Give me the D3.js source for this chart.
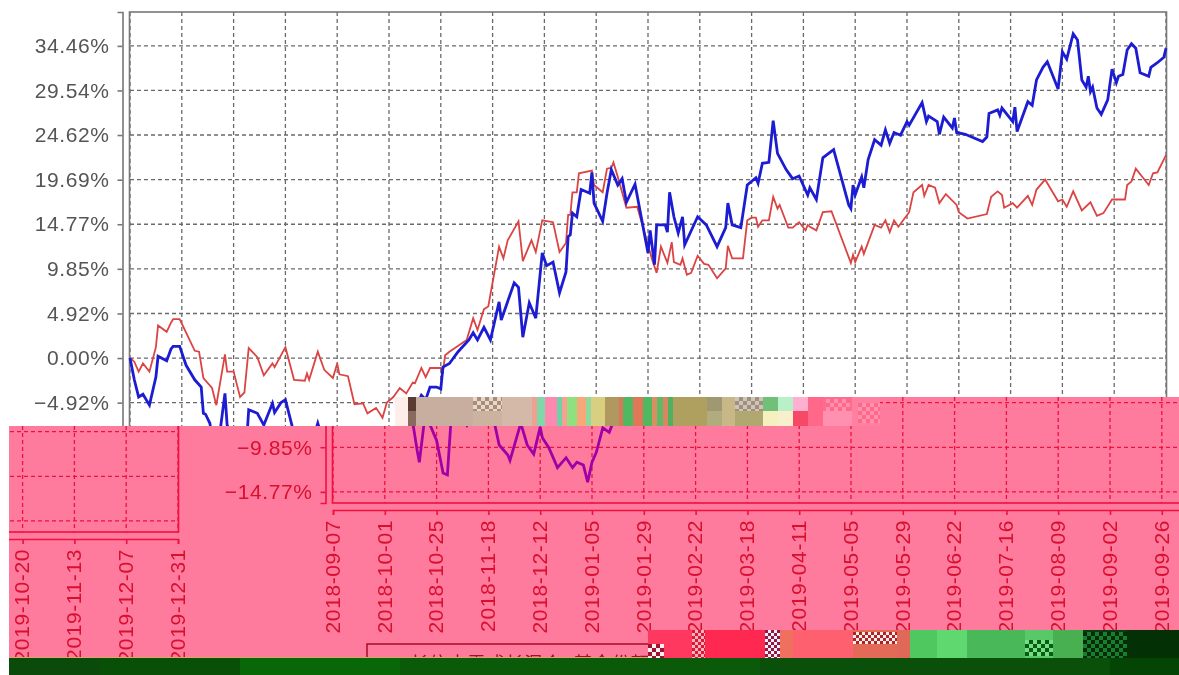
<!DOCTYPE html>
<html>
<head>
<meta charset="utf-8">
<script src="https://cdn.jsdelivr.net/npm/d3@7"></script>
<style>
  html, body { margin: 0; padding: 0; background: #fff; }
  svg { display: block; filter: blur(0.5px); }
</style>
</head>
<body>
<div id="wrapper"></div>
<script>
// tick labels
const xTickLabels = ["2018-09-07","2018-10-01","2018-10-25","2018-11-18","2018-12-12","2019-01-05","2019-01-29","2019-02-22","2019-03-18","2019-04-11","2019-05-05","2019-05-29","2019-06-22","2019-07-16","2019-08-09","2019-09-02","2019-09-26","2019-10-20","2019-11-13","2019-12-07","2019-12-31"]
const yTicks = [34.46, 29.54, 24.62, 19.69, 14.77, 9.85, 4.92, 0, -4.92, -9.85, -14.77]
const legendName = "长信内需成长混合A基金份额"

// fund line (blue): days after 2018-09-07, return in %
const fundDays = [0,2,4,6,9,12,13,17,19,20,23,26,30,33,34,35,37,39,40,42,44,45,48,51,53,55,59,62,66,67,70,72,75,77,81,82,87,90,93,96,97,100,104,108,111,113,116,118,120,122,125,128,131,135,137,139,142,144,145,148,152,157,159,161,164,167,171,172,178,180,182,185,188,191,193,196,199,202,203,204,205,207,209,213,214,215,219,221,223,226,228,230,234,240,241,243,244,248,249,250,252,254,256,257,263,267,272,276,277,279,283,286,290,291,293,296,298,300,304,307,310,314,315,318,321,326,333,334,335,336,339,340,342,345,348,350,352,354,357,360,361,367,369,370,374,375,377,381,382,383,387,395,397,398,402,403,404,409,410,411,416,418,420,423,425,430,432,434,437,439,441,443,444,445,446,448,450,453,455,457,458,460,462,464,466,468,472,473,476,479,480]
const fundValues = [0,-2.4,-4.3,-4,-5.2,-2.1,0.2,-0.3,1,1.3,1.3,-0.8,-2.4,-3.2,-6.1,-6.2,-7.2,-10.2,-11.5,-7.6,-3.9,-7.4,-9.1,-12.7,-12.9,-5.7,-6.1,-7.4,-5,-6,-4.9,-4.6,-7.4,-9.6,-10.7,-11.3,-7.2,-9.6,-10.6,-7.6,-8.8,-9.9,-12.1,-11,-12.1,-11.5,-11.8,-13.7,-11.5,-10.4,-7.7,-8.2,-6.3,-4.1,-4.6,-3.2,-3.2,-3.4,-1,-0.6,0.7,2,2.8,2,3.4,2,6.2,4.2,8.3,7.8,2.3,6.1,4.4,11.6,10.2,10.6,7.2,9.5,13.4,13.6,16,15.6,18.6,18.2,20.5,17.1,15.1,18.2,20.8,19.1,19.8,17.2,19.2,11.6,14.1,10.3,14.7,14.7,13.9,18.3,15.6,13.8,15.6,12.5,15.6,14.7,12.3,14.4,17.1,14.7,14.4,19.1,19.9,19.3,21.5,21.6,26.2,22.6,20.8,19.8,20.1,18,18.8,17.5,22.1,23,16.9,16.5,19.1,18,20,18.8,21.9,24.1,23.5,25.2,23.7,24.9,24.6,26.1,25.7,28.2,26.1,26.7,26.1,24.7,26.6,25.4,26.5,24.9,24.7,23.9,24.4,27,27.4,26.8,27.6,26.1,27.7,25,28.3,27.9,30.7,32.1,32.7,29.7,33.8,33,35.8,35.1,30.7,29.9,31.1,29.4,29.9,27.6,26.9,28.5,31.9,30.4,31.1,31.3,34,34.7,34.2,31.5,31.1,32.1,32.6,33.2,34.2]

// benchmark line (red)
const benchDays = [0,2,4,6,9,12,13,17,19,20,23,26,30,32,34,38,40,44,45,48,51,53,55,59,62,66,67,72,74,76,81,82,83,87,90,94,96,97,101,104,108,110,114,117,119,122,125,128,131,132,135,137,139,144,145,146,148,156,159,161,164,166,171,173,175,180,182,186,188,191,196,199,202,203,204,205,207,208,214,215,219,221,223,224,226,230,235,242,244,246,249,251,252,255,256,258,260,263,266,268,272,276,277,279,284,286,288,290,291,293,296,298,300,301,305,307,310,313,314,315,318,321,325,334,335,336,339,340,345,348,350,352,354,356,361,363,367,368,370,373,375,378,383,384,388,397,399,402,404,405,409,411,416,418,420,424,430,432,434,437,441,445,448,451,455,461,462,464,466,472,474,476,480]
const benchValues = [0,-0.4,-1.5,-0.6,-1.5,1.2,3.6,2.9,3.9,4.3,4.3,2.8,0.8,0.7,-2.2,-3.3,-5.2,0.4,-1.5,-1.5,-4.3,-3.8,1.1,0.1,-1.9,-0.6,-1,1.2,-0.6,-2.4,-2.5,-1.7,-2.4,0.7,-1.3,-2.2,-0.6,-1.8,-2,-5.1,-5,-6.1,-5.5,-6.6,-4.9,-4.3,-3.3,-3.9,-2.7,-2.8,-1.1,-2.1,-1.1,-1.1,-1.5,0.3,0.7,2,4.4,3.1,5.4,5.7,12.3,11,13,15.1,10.7,13,11.7,15.2,15,11.7,12.7,15.8,15.8,18.3,18.3,20.4,20.7,19.1,18.3,20.9,21,21.6,20,16.6,16.7,10.8,9.4,12.3,10.5,12.8,10.6,10.3,11,9.2,9.4,11.3,10.4,10.3,8.8,9.9,12.4,11,11,15.2,15.5,15.5,14.5,15.2,15.2,17.8,16.5,16.9,14.4,14.4,15,14.1,14.7,14.5,14.1,16.1,16.2,10.5,11.4,10.6,12.3,11.5,14.7,14.4,15.2,13.9,15.2,14.5,16.1,18.3,19.1,17.9,19.1,18.8,17.1,18.1,16.9,16.1,15.4,15.9,17.8,18.4,18,16.6,17.1,16.6,17.9,16.9,18.6,19.7,17.3,17.5,16.7,18.4,16.3,17.2,15.7,16,17.5,17.5,19.1,19.5,20.9,19.1,20.4,20.5,22.4]

const dms = { width: 1179, height: 675, left: 130, right: 1166, top: 12, bottom: 503, axisY: 510, axisX: 122.5 }
const fontFamily = "'Liberation Sans', Arial, sans-serif"

const parseDate = d3.utcParse("%Y-%m-%d")
const tickDates = xTickLabels.map(parseDate)
const startDate = tickDates[0]

const xScale = d3.scaleUtc()
  .domain([startDate, tickDates[tickDates.length - 1]])
  .range([dms.left, dms.right])

const yScale = d3.scaleLinear()
  .domain([-16, 38.2])
  .range([dms.bottom, dms.top])

const lineGen = d3.line()
  .x(d => xScale(d3.utcDay.offset(startDate, d[0])))
  .y(d => yScale(d[1]))

const wrapper = d3.select("#wrapper")
  .append("svg")
  .attr("width", dms.width)
  .attr("height", dms.height)

const defs = wrapper.append("defs")

// the whole chart, drawn once for the clean part and again for each shifted piece
// show says which tick labels and whether the legend are in view for that piece
function drawChart(parent, colors, show) {
  const grid = parent.append("g")
    .attr("stroke", colors.grid)
    .attr("stroke-width", 1.3)
    .attr("stroke-dasharray", "4 3")

  grid.selectAll(".v")
    .data(tickDates)
    .join("line")
    .attr("x1", d => xScale(d))
    .attr("x2", d => xScale(d))
    .attr("y1", dms.top)
    .attr("y2", dms.bottom)

  grid.selectAll(".h")
    .data(yTicks)
    .join("line")
    .attr("x1", dms.left)
    .attr("x2", dms.right)
    .attr("y1", d => yScale(d))
    .attr("y2", d => yScale(d))

  parent.append("rect")
    .attr("x", dms.left - 0.5)
    .attr("y", dms.top)
    .attr("width", dms.right - dms.left + 1)
    .attr("height", dms.bottom - dms.top)
    .attr("fill", "none")
    .attr("stroke", colors.frame)
    .attr("stroke-width", 1.6)

  const yAxis = parent.append("g")
    .attr("transform", `translate(${dms.axisX},0)`)
    .call(d3.axisLeft(yScale).tickValues(yTicks).tickSize(5)
      .tickFormat(d => d3.format(".2f")(d) + "%"))

  const xAxis = parent.append("g")
    .attr("transform", `translate(0,${dms.axisY})`)
    .call(d3.axisBottom(xScale).tickValues(tickDates).tickSize(5)
      .tickFormat(d3.utcFormat("%Y-%m-%d")))

  xAxis.selectAll("text")
    .attr("transform", "rotate(-90)")
    .attr("text-anchor", "end")
    .attr("x", -10)
    .attr("y", -1)
    .attr("dy", "0.35em")

  yAxis.selectAll("text").attr("x", -13)

  for (const axis of [xAxis, yAxis]) {
    axis.selectAll("path, line")
      .attr("stroke", colors.frame)
      .attr("stroke-width", 1.6)
    axis.selectAll("text")
      .attr("fill", colors.text)
      .attr("font-family", fontFamily)
      .attr("font-size", 21)
      .attr("letter-spacing", 0.6)
  }

  xAxis.selectAll("text").filter(d => !show.xLabel(d)).remove()
  yAxis.selectAll("text").filter(d => !show.yLabel(d)).remove()

  parent.append("path")
    .attr("d", lineGen(d3.zip(benchDays, benchValues)))
    .attr("fill", "none")
    .attr("stroke", colors.bench)
    .attr("stroke-width", 1.8)

  parent.append("path")
    .attr("d", lineGen(d3.zip(fundDays, fundValues)))
    .attr("fill", "none")
    .attr("stroke", colors.fund)
    .attr("stroke-width", 2.8)

  if (!show.legend) return

  // legend box, only its top edge is left in the picture
  parent.append("rect")
    .attr("x", 164)
    .attr("y", 644)
    .attr("width", 520)
    .attr("height", 60)
    .attr("fill", "none")
    .attr("stroke", colors.box)
    .attr("stroke-width", 1.5)

  parent.append("text")
    .attr("x", 207)
    .attr("y", 671)
    .attr("fill", colors.box)
    .attr("font-family", "'Noto Sans CJK SC', sans-serif")
    .attr("font-size", 19)
    .text(legendName)
}

const plainColors = { grid: "#6a6a6a", frame: "#777", text: "#555", fund: "#1c1cd2", bench: "#dc4444", box: "#555" }
const pinkColors = { grid: "#ee1040", frame: "#ee1040", text: "#d81030", fund: "#a000a8", bench: "#dc1030", box: "#a80c28" }
const pink = "#ff7b9d"

drawChart(wrapper.append("g"), plainColors, {
  xLabel: () => false,
  yLabel: d => d > -5
})

// the picture is torn: below these lines it continues shifted and recoloured
function drawTornPiece(id, outline, dx, dy, show) {
  defs.append("clipPath").attr("id", id)
    .append("polygon").attr("points", outline.join(" "))
  const piece = wrapper.append("g").attr("clip-path", `url(#${id})`)
  piece.append("rect")
    .attr("width", dms.width)
    .attr("height", dms.height)
    .attr("fill", pink)
  drawChart(piece.append("g").attr("transform", `translate(${dx},${dy})`), pinkColors, show)
}

const tornStart = tickDates[17]

drawTornPiece("tornLeft", [[9,426],[215,426],[215,658],[9,658]], -988, 29, {
  xLabel: d => d >= tornStart,
  yLabel: () => false
})
drawTornPiece("tornRight", [[215,426],[800,426],[800,397],[1179,397],[1179,658],[215,658]], 203, 0, {
  xLabel: d => d < tornStart,
  yLabel: d => d < -5,
  legend: true
})

// corrupted blocks
function drawBlocks(y, h, blocks) {
  wrapper.append("g").selectAll("rect")
    .data(blocks)
    .join("rect")
    .attr("x", d => d[0])
    .attr("y", y)
    .attr("width", d => d[1] - d[0])
    .attr("height", h)
    .attr("fill", d => d[2])
}

function drawChecks(x0, x1, y0, y1, size, colorA, colorB) {
  const cells = d3.cross(d3.range(x0, x1, size), d3.range(y0, y1, size))
  wrapper.append("g").selectAll("rect")
    .data(cells)
    .join("rect")
    .attr("x", d => d[0])
    .attr("y", d => d[1])
    .attr("width", d => Math.min(size, x1 - d[0]))
    .attr("height", d => Math.min(size, y1 - d[1]))
    .attr("fill", d => ((d[0] - x0) / size + (d[1] - y0) / size) % 2 ? colorA : colorB)
}

drawBlocks(397, 29, [
  [395,408,"#fdeeea"],[408,416,"#8a6a5c"],[416,473,"#c8ae9e"],[473,502,"#ccb3a0"],[502,532,"#d4b8a8"],
  [532,537,"#f0a090"],[537,545,"#80d8a8"],[545,557,"#ff88b0"],[557,562,"#70d0a8"],[562,567,"#f5a090"],
  [567,577,"#90e080"],[577,586,"#f8a878"],[586,591,"#90d8a0"],[591,605,"#d8d080"],[605,619,"#b09860"],
  [619,623,"#d87858"],[623,633,"#50b860"],[633,643,"#e07858"],[643,652,"#50b860"],[652,657,"#d89060"],
  [657,663,"#60b868"],[663,668,"#d88860"],[668,673,"#50b060"],[673,707,"#b0a060"],[707,722,"#b0ac80"],
  [722,735,"#c8b888"],[735,763,"#b0a870"],[763,778,"#f4f0c0"],[778,793,"#f8f0cc"],[793,808,"#f84868"],
  [808,823,"#ff6888"],[823,852,"#ff90b0"],[852,880,"#ff80a0"]
])
drawBlocks(397, 14, [[408,416,"#5a3c32"],[707,722,"#a09870"],[735,763,"#a89888"],[763,778,"#70c078"],[778,793,"#b8f0c8"],[793,808,"#ffb0d0"],[823,852,"#ff6c8c"]])
drawChecks(473, 502, 397, 411, 4, "#a88c7c", "#e8d8c8")
drawChecks(735, 763, 397, 411, 4, "#a09080", "#d0c4b8")
drawChecks(826, 850, 399, 411, 4, "#ff6888", "#ff90b0")
drawChecks(858, 880, 403, 423, 4, "#ff90b0", "#ff6888")

drawBlocks(630, 28, [
  [648,692,"#ff3860"],[692,705,"#f04060"],[705,765,"#ff2850"],[765,780,"#e86088"],[780,793,"#f07060"],
  [793,853,"#ff6070"],[853,897,"#e46a58"],[897,910,"#e06858"],[910,937,"#50c860"],[937,967,"#60d870"],
  [967,1025,"#48b858"],[1025,1053,"#58c868"],[1053,1083,"#48b050"],[1083,1127,"#063d10"],[1127,1179,"#043006"]
])
drawChecks(648, 664, 644, 658, 4, "#fff0f0", "#a01030")
drawChecks(692, 705, 630, 658, 3, "#ffb0b8", "#d81838")
drawChecks(765, 780, 630, 658, 3, "#fff0f0", "#901850")
drawChecks(853, 897, 632, 644, 3, "#fff0e0", "#b02030")
drawChecks(1025, 1053, 640, 656, 4, "#0c5a18", "#70e080")
drawChecks(1083, 1127, 632, 658, 4, "#18802c", "#042c0a")

drawBlocks(657, 1, [[9,648,"#d8a868"]])
drawBlocks(658, 17, [[9,100,"#0a4a0a"],[100,240,"#085008"],[240,400,"#086808"],[400,760,"#0a5a0a"],[760,1110,"#0a500a"],[1110,1179,"#044404"]])
</script>
</body>
</html>
